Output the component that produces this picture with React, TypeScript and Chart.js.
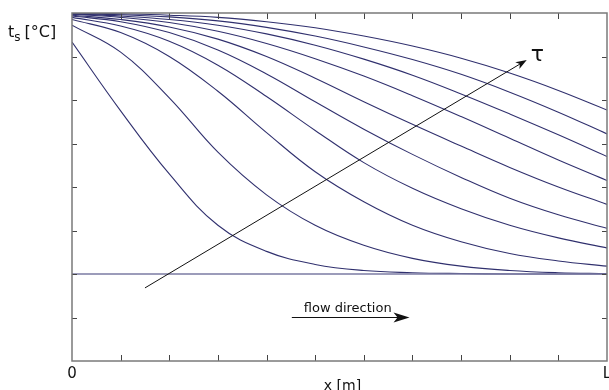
import React, { useEffect, useRef } from "react";
import { Chart, registerables } from "chart.js";
Chart.register(...registerables);

// x positions along the channel (tick units, 0 .. L)
const xPositions = [0, 1, 2, 3, 4, 5, 6, 7, 8, 9, 10, 11];
const xTickValues = [1, 2, 3, 4, 5, 6, 7, 8, 9, 10];
const yTickValues = [1, 2, 3, 4, 5, 6, 7];
const xMin = 0;
const xMax = 11;
const yMin = 0;
const yMax = 8;

// initial temperature (tau = 0)
const profile0 = [2, 2, 2, 2, 2, 2, 2, 2, 2, 2, 2, 2];
// temperature profiles for increasing time tau
const profile1 = [7.33, 5.75, 4.3, 3.12, 2.52, 2.22, 2.08, 2.03, 2.01, 2.0, 2.0, 2.0];
const profile2 = [7.72, 7.1, 6.05, 4.8, 3.82, 3.12, 2.66, 2.36, 2.18, 2.08, 2.03, 2.01];
const profile3 = [7.85, 7.55, 7.0, 6.2, 5.25, 4.35, 3.66, 3.12, 2.74, 2.47, 2.3, 2.18];
const profile4 = [7.9, 7.7, 7.35, 6.8, 6.08, 5.3, 4.56, 3.97, 3.5, 3.12, 2.83, 2.6];
const profile5 = [7.93, 7.8, 7.55, 7.15, 6.6, 5.96, 5.33, 4.75, 4.22, 3.74, 3.36, 3.05];
const profile6 = [7.95, 7.85, 7.68, 7.4, 7.0, 6.5, 5.96, 5.44, 4.94, 4.45, 4.0, 3.6];
const profile7 = [7.97, 7.9, 7.78, 7.58, 7.3, 6.95, 6.55, 6.1, 5.62, 5.12, 4.62, 4.15];
const profile8 = [7.98, 7.93, 7.85, 7.72, 7.52, 7.26, 6.94, 6.57, 6.14, 5.68, 5.2, 4.7];
const profile9 = [7.99, 7.96, 7.91, 7.82, 7.67, 7.47, 7.22, 6.93, 6.59, 6.18, 5.72, 5.22];
const profile10 = [8.0, 7.98, 7.95, 7.9, 7.8, 7.66, 7.47, 7.24, 6.96, 6.62, 6.22, 5.77];

const profiles = [profile1, profile2, profile3, profile4, profile5, profile6, profile7, profile8, profile9, profile10];

// annotation arrows in data units
const tauArrowFrom = [1.5, 1.68];
const tauArrowTo = [9.35, 6.92];
const flowArrowFrom = [4.52, 1.0];
const flowArrowTo = [6.94, 1.0];

const xStartLabel = "0";
const xEndLabel = "L";
const xAxisTitle = "x [m]";
const flowLabel = "flow direction";
const tauLabel = "τ";

const curveColor = "#30306e";
const baseColor = "#7b7ba3";
const frameColor = "#7a7a7a";
const textFont = "'DejaVu Sans', sans-serif";

function drawArrowHead(ctx: CanvasRenderingContext2D, x1: number, y1: number, x2: number, y2: number, len: number, half: number, notch: number) {
  const ang = Math.atan2(y2 - y1, x2 - x1);
  const c = Math.cos(ang), s = Math.sin(ang);
  const bx = x2 - len * c, by = y2 - len * s;
  const nx = x2 - (len - notch) * c, ny = y2 - (len - notch) * s;
  ctx.beginPath();
  ctx.moveTo(x2, y2);
  ctx.lineTo(bx - half * s, by + half * c);
  ctx.lineTo(nx, ny);
  ctx.lineTo(bx + half * s, by - half * c);
  ctx.closePath();
  ctx.fill();
}

const decorPlugin = {
  id: "decor",
  afterDraw(chart: any) {
    const { ctx, chartArea, scales } = chart;
    const xs = scales.x, ys = scales.y;
    const { left, right, top, bottom } = chartArea;
    ctx.save();
    // ticks (inward, all four sides)
    ctx.strokeStyle = "#444";
    ctx.lineWidth = 1;
    ctx.beginPath();
    xTickValues.forEach((v) => {
      const px = Math.round(xs.getPixelForValue(v)) + 0.5;
      ctx.moveTo(px, bottom);
      ctx.lineTo(px, bottom - 6);
      ctx.moveTo(px, top);
      ctx.lineTo(px, top + 6);
    });
    yTickValues.forEach((v) => {
      const py = Math.round(ys.getPixelForValue(v)) + 0.5;
      ctx.moveTo(left, py);
      ctx.lineTo(left + 5, py);
      ctx.moveTo(right, py);
      ctx.lineTo(right - 5, py);
    });
    ctx.stroke();
    // frame
    ctx.strokeStyle = frameColor;
    ctx.lineWidth = 1.5;
    ctx.strokeRect(left, top, right - left, bottom - top);

    // tau arrow
    const tx1 = xs.getPixelForValue(tauArrowFrom[0]), ty1 = ys.getPixelForValue(tauArrowFrom[1]);
    const tx2 = xs.getPixelForValue(tauArrowTo[0]), ty2 = ys.getPixelForValue(tauArrowTo[1]);
    const ta = Math.atan2(ty2 - ty1, tx2 - tx1);
    ctx.strokeStyle = "#111";
    ctx.fillStyle = "#111";
    ctx.lineWidth = 1;
    ctx.beginPath();
    ctx.moveTo(tx1, ty1);
    ctx.lineTo(tx2 - 6 * Math.cos(ta), ty2 - 6 * Math.sin(ta));
    ctx.stroke();
    drawArrowHead(ctx, tx1, ty1, tx2, ty2, 11, 4, 3);

    // flow arrow
    const fx1 = xs.getPixelForValue(flowArrowFrom[0]), fy1 = ys.getPixelForValue(flowArrowFrom[1]);
    const fx2 = xs.getPixelForValue(flowArrowTo[0]), fy2 = ys.getPixelForValue(flowArrowTo[1]);
    ctx.beginPath();
    ctx.moveTo(fx1, fy1);
    ctx.lineTo(fx2 - 8, fy2);
    ctx.stroke();
    drawArrowHead(ctx, fx1, fy1, fx2, fy2, 16, 5, 4);

    // texts
    ctx.fillStyle = "#111";
    ctx.font = `13px ${textFont}`;
    ctx.textAlign = "center";
    ctx.textBaseline = "alphabetic";
    ctx.fillText(flowLabel, (fx1 + fx2) / 2 - 3, fy1 - 6);

    ctx.font = `22px ${textFont}`;
    ctx.textAlign = "left";
    ctx.textBaseline = "middle";
    ctx.fillText(tauLabel, tx2 + 4, ty2 - 5);

    ctx.font = `15px ${textFont}`;
    ctx.textAlign = "center";
    ctx.textBaseline = "middle";
    ctx.fillText(xStartLabel, xs.getPixelForValue(xMin), bottom + 13);
    ctx.fillText(xEndLabel, xs.getPixelForValue(xMax), bottom + 13);
    ctx.font = `14px ${textFont}`;
    ctx.textBaseline = "top";
    ctx.fillText(xAxisTitle, (left + right) / 2 + 3, bottom + 18);

    // y axis label t_s [°C]
    ctx.textAlign = "left";
    ctx.textBaseline = "alphabetic";
    ctx.font = `16px ${textFont}`;
    let x = 8;
    const yb = 37;
    ctx.fillText("t", x, yb);
    x += ctx.measureText("t").width;
    ctx.font = `12px ${textFont}`;
    ctx.fillText("s", x, yb + 4);
    x += ctx.measureText("s").width + 4;
    ctx.font = `16px ${textFont}`;
    ctx.fillText("[°C]", x, yb);
    ctx.restore();
  },
};

export default function App() {
  const ref = useRef<HTMLCanvasElement | null>(null);
  useEffect(() => {
    document.body.style.margin = "0";
    const canvas = ref.current;
    if (!canvas) return;
    const datasets: any[] = [
      {
        label: "tau0",
        data: xPositions.map((x, i) => ({ x, y: profile0[i] })),
        borderColor: baseColor,
        borderWidth: 1.5,
        pointRadius: 0,
        fill: false,
      },
      ...profiles.map((p, k) => ({
        label: `tau${k + 1}`,
        data: xPositions.map((x, i) => ({ x, y: p[i] })),
        borderColor: curveColor,
        borderWidth: 1.1,
        pointRadius: 0,
        fill: false,
        tension: 0.4,
      })),
    ];
    const chart = new Chart(canvas, {
      type: "line",
      data: { datasets },
      options: {
        responsive: false,
        animation: false,
        events: [],
        layout: { padding: { left: 72, right: 2, top: 13, bottom: 29 } },
        plugins: { legend: { display: false }, tooltip: { enabled: false } },
        scales: {
          x: { type: "linear", min: xMin, max: xMax, display: false },
          y: { type: "linear", min: yMin, max: yMax, display: false },
        },
      },
      plugins: [decorPlugin],
    });
    return () => chart.destroy();
  }, []);
  return (
    <div style={{ position: "absolute", left: 0, top: 0, width: 609, height: 390, background: "#fff" }}>
      <canvas ref={ref} width={609} height={390} style={{ display: "block" }} />
    </div>
  );
}
